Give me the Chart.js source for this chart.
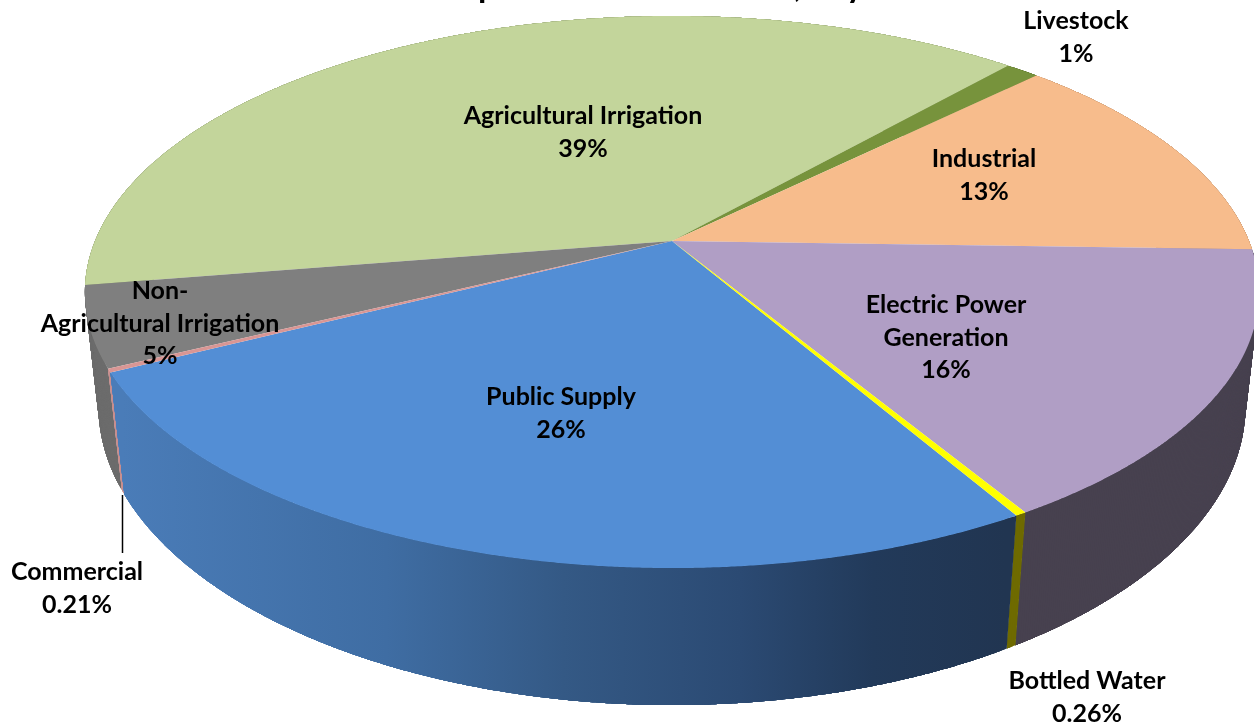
<!DOCTYPE html>
<html><head><meta charset="utf-8">
<style>html,body{margin:0;padding:0;background:#fff;overflow:hidden}canvas{display:block}</style>
<script src="https://cdn.jsdelivr.net/npm/chart.js@4"></script>
</head><body>
<canvas id="c" width="1254" height="728"></canvas>
<script>
const categories = ["Agricultural Irrigation","Livestock","Industrial","Electric Power Generation","Bottled Water","Public Supply","Commercial","Non-Agricultural Irrigation"];
const shares = [39.1,1.1,12.85,15.9,0.26,25.9,0.21,4.7];
const shareLabels = ["39%","1%","13%","16%","0.26%","26%","0.21%","5%"];
const topColors = ["#C3D59B","#77933C","#F7BC8C","#B09EC5","#FFFF00","#538ED5","#D99694","#7F7F7F"];
const wallColors = ["#9DAC7C","#5F7630","#C79770","#47414F","#6E6A00","#4A7CB8","#C88E8E","#6C6C6C"];
// only the descenders of the cropped title are visible in the picture
const titleFragments = ["p",",","y"];

// perspective camera for the tilted disc
const CAM = {X0:672,Y0:241,A:577,B:266.6,k:0.1848,D:111.7,VX:670,VY:5280};
function top3(t){const u=Math.cos(t),v=Math.sin(t),w=1-CAM.k*v;return {x:CAM.X0+CAM.A*u/w,y:CAM.Y0+CAM.B*v/w,w};}
function bot3(t){const p=top3(t),dy=CAM.D/p.w,dx=(CAM.VX-p.x)/(CAM.VY-p.y)*dy;return {x:p.x+dx,y:p.y+dy};}
const STEP=Math.PI/720;

function wallFill(ctx,i){
  if(categories[i]!=="Public Supply")return wallColors[i];
  const g=ctx.createLinearGradient(122,0,1005,0);
  g.addColorStop(0,"#4A7CB8");g.addColorStop(0.3,"#3F6DA3");g.addColorStop(0.5,"#345985");g.addColorStop(0.7,"#2B4A73");g.addColorStop(0.85,"#223A5A");g.addColorStop(1,"#213551");
  return g;
}

const disc3d={id:"disc3d",
  beforeDatasetsDraw(chart){
    const ctx=chart.ctx,arcs=chart.getDatasetMeta(0).data;
    ctx.save();
    const ang=arcs.map(a=>a.getProps(["startAngle","endAngle"],true));
    const order=arcs.map((_,i)=>i).sort((p,q)=>Math.sin((ang[p].startAngle+ang[p].endAngle)/2)-Math.sin((ang[q].startAngle+ang[q].endAngle)/2));
    // outer walls, far to near, swept as heavily overlapping bands so the fold at the silhouette stays filled and opaque
    order.forEach(i=>{
      const s=ang[i].startAngle,e=ang[i].endAngle;
      ctx.fillStyle=wallFill(ctx,i);
      for(let t=s;t<e;t+=STEP){
        const t2=Math.min(e,t+8*STEP);
        ctx.beginPath();
        const a=top3(t);ctx.moveTo(a.x,a.y);
        for(let q=t+STEP;q<t2;q+=STEP){const p=top3(q);ctx.lineTo(p.x,p.y);}
        const b=top3(t2),c=bot3(t2);ctx.lineTo(b.x,b.y);ctx.lineTo(c.x,c.y);
        for(let q=t2-STEP;q>t;q-=STEP){const p=bot3(q);ctx.lineTo(p.x,p.y);}
        const d=bot3(t);ctx.lineTo(d.x,d.y);ctx.closePath();ctx.fill();
      }
    });
    // top faces
    [0,1,2,3,5,7,4,6].forEach(i=>{
      const s=ang[i].startAngle,e=ang[i].endAngle;
      ctx.beginPath();ctx.moveTo(CAM.X0,CAM.Y0);
      for(let t=s;t<e;t+=STEP){const p=top3(t);ctx.lineTo(p.x,p.y);}
      const p=top3(e);ctx.lineTo(p.x,p.y);ctx.closePath();
      ctx.fillStyle=topColors[i];ctx.fill();
    });
    ctx.restore();
    return false;
  },
  afterDraw(chart){
    const ctx=chart.ctx;
    ctx.save();
    // leader line of the Commercial label
    ctx.strokeStyle="#000";ctx.lineWidth=1.5;
    ctx.beginPath();ctx.moveTo(122.5,495);ctx.lineTo(122.5,553);ctx.stroke();
    ctx.fillStyle="#000";ctx.textBaseline="alphabetic";ctx.textAlign="left";
    ctx.font="bold 34px Lato, Carlito, sans-serif";
    ctx.fillText(titleFragments[0],478,-3.3);
    ctx.fillText(titleFragments[1],794,-3.3);
    ctx.fillText(titleFragments[2],846,-3.3);
    ctx.textAlign="center";ctx.textBaseline="middle";
    ctx.font="bold 25px Lato, Carlito, sans-serif";
    const put=(x,ys,lines)=>lines.forEach((l,n)=>ctx.fillText(l,x,ys+1+n*32.5));
    put(583,115,[categories[0],shareLabels[0]]);
    put(1076,20,[categories[1],shareLabels[1]]);
    put(984,158,[categories[2],shareLabels[2]]);
    put(946,304,["Electric Power","Generation",shareLabels[3]]);
    put(1087,680,[categories[4],shareLabels[4]]);
    put(561,396,[categories[5],shareLabels[5]]);
    put(77,571,[categories[6],shareLabels[6]]);
    put(160,290,["Non-","Agricultural Irrigation",shareLabels[7]]);
    ctx.restore();
  }
};

new Chart(document.getElementById("c"),{
  type:"pie",
  data:{labels:categories,datasets:[{data:shares,backgroundColor:topColors,borderWidth:0}]},
  options:{responsive:false,animation:false,rotation:260.8,
    plugins:{legend:{display:false},tooltip:{enabled:false},title:{display:false}}},
  plugins:[disc3d]
});
</script>
</body></html>
